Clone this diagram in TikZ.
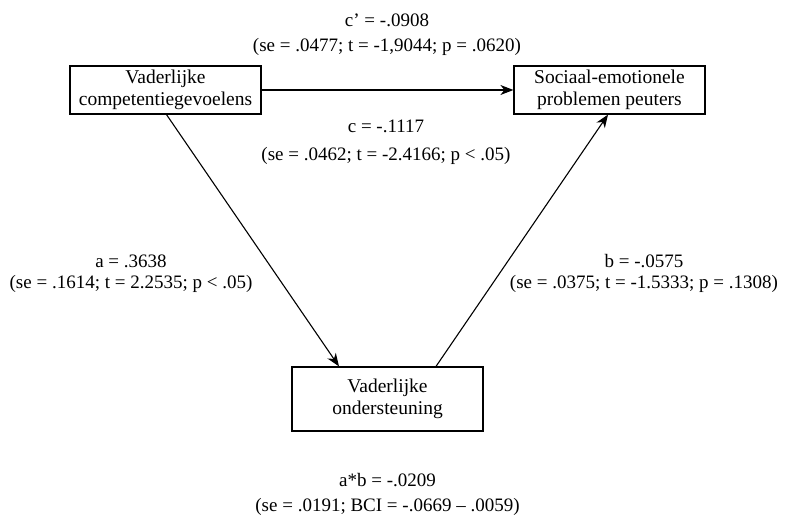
\documentclass[tikz,border=0pt]{standalone}
\usepackage{fontspec}
\setmainfont{Liberation Serif}
\usetikzlibrary{arrows.meta,positioning,calc}
\tikzset{
  varbox/.style={rectangle, draw=black, line width=1.2pt, align=center, minimum width=191pt, font=\fontsize{19.5}{22}\selectfont, inner sep=0pt},
  coef/.style={align=center, font=\fontsize{19}{21}\selectfont, inner sep=0pt},
  path/.style={-{Stealth[length=13pt,width=10pt,inset=4pt]}, line width=1.1pt},
}

\begin{document}
\begin{tikzpicture}[x=1pt,y=-1pt]
  \useasboundingbox (0,0) rectangle (792,518);
  \node[varbox, minimum height=48pt] (comp) at (165.5,90) {Vaderlijke\\competentiegevoelens};
  \node[varbox, minimum height=48pt] (probl) at (609.5,90) {Sociaal-emotionele\\problemen peuters};
  \node[varbox, minimum height=64pt] (steun) at (387.5,399) {Vaderlijke\\ondersteuning};
  % coefficients
  \node[coef] (cprime) at (387,34.5) {c' = -.0908\\[4pt](se = .0477; t = -1,9044; p = .0620)};
  \node[coef] (ctot) at (386,142) {c = -.1117\\[7pt](se = .0462; t = -2.4166; p < .05)};
  \node[coef] (acoef) at (131,273.5) {a = .3638\\(se = .1614; t = 2.2535; p < .05)};
  \node[coef] (bcoef) at (644,273.5) {b = -.0575\\(se = .0375; t = -1.5333; p = .1308)};
  \node[coef] (indirect) at (387.5,494) {a*b = -.0209\\[4pt](se = .0191; BCI = -.0669 -- .0059)};
  % paths
  \draw[path] (comp.east) -- (probl.west);
  \draw[path] ([xshift=1pt]comp.south) -- ([xshift=-48.5pt]steun.north);
  \draw[path] ([xshift=48.5pt]steun.north) -- ([xshift=-1.5pt]probl.south);
\end{tikzpicture}
\end{document}
